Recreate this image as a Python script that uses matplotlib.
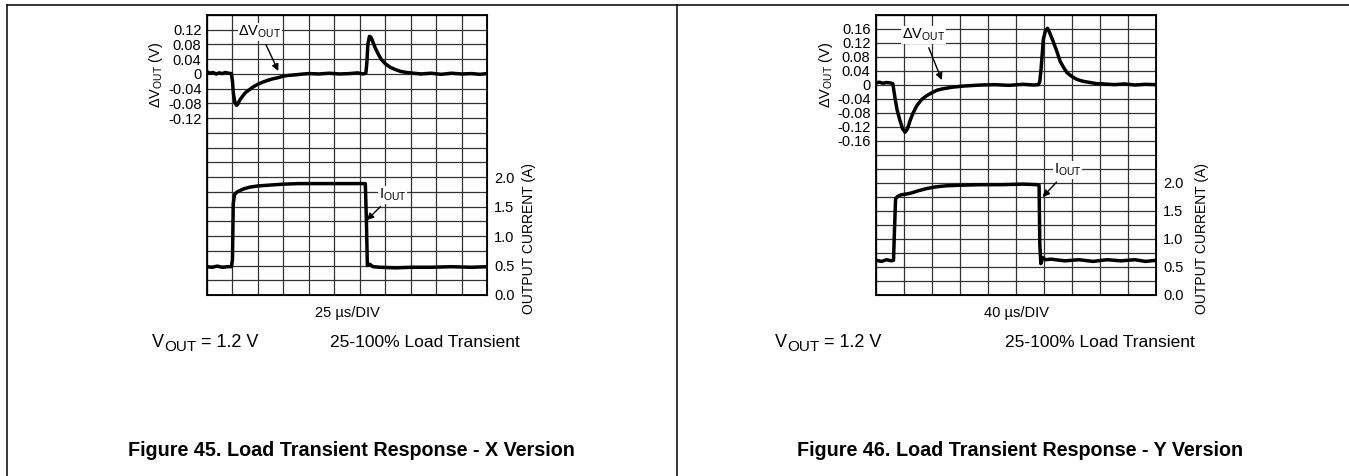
import numpy as np
import matplotlib
matplotlib.use('Agg')
import matplotlib.pyplot as plt
from matplotlib.lines import Line2D

plt.rcParams['font.family'] = ['Liberation Sans', 'DejaVu Sans']
plt.rcParams['mathtext.fontset'] = 'custom'
plt.rcParams['mathtext.rm'] = 'Liberation Sans'
plt.rcParams['mathtext.default'] = 'regular'

# =============================================================================
# DATA
# =============================================================================

# Figure 45 - X version, 25 us/DIV, 11 divisions
x_t = [0, 3, 6, 9, 12, 15, 18, 21, 24, 25, 26, 27.5, 29, 30, 32, 35, 38, 42, 46, 50,
       55, 60, 65, 70, 75, 80, 88, 95, 100, 110, 120, 130, 140, 148, 153, 156,
       157, 158, 159.5, 161, 162.5, 165, 168, 171, 175, 180, 185, 190, 196, 203,
       210, 220, 230, 240, 250, 260, 268, 275]
x_dv = [0.006, 0.002, 0.004, 0.0, 0.003, 0.001, 0.004, 0.002, 0.001, -0.02, -0.055, -0.078, -0.085, -0.083, -0.072, -0.06, -0.05, -0.042, -0.034, -0.028,
        -0.022, -0.017, -0.013, -0.01, -0.006, -0.004, -0.002, 0.0, 0.001, 0.0, 0.002, 0.0, 0.001, 0.003, 0.0, 0.002,
        0.03, 0.08, 0.102, 0.1, 0.09, 0.072, 0.055, 0.04, 0.028, 0.018, 0.012, 0.007, 0.004, 0.002,
        0.0, 0.002, -0.001, 0.002, 0.0, 0.001, -0.001, 0.001]

x_it = [0, 5, 10, 15, 20, 24, 25, 25.8, 27, 29, 32, 36, 42, 50, 58, 66, 75, 90, 110,
        130, 145, 155.5, 156.5, 157.5, 160, 163, 170, 185, 200, 220, 240, 260, 275]
x_i = [0.48, 0.47, 0.49, 0.47, 0.48, 0.48, 0.6, 1.55, 1.7, 1.74, 1.77, 1.8, 1.83, 1.85, 1.86, 1.87, 1.88, 1.89, 1.89,
       1.89, 1.89, 1.89, 1.3, 0.5, 0.52, 0.48, 0.47, 0.46, 0.47, 0.47, 0.48, 0.47, 0.48]

# Figure 46 - Y version, 40 us/DIV, 10 divisions
y_t = [0, 5, 10, 15, 20, 24, 27, 30, 34, 38, 41.5, 45, 49, 53, 58, 65, 72, 80, 87, 95,
       110, 125, 150, 170, 190, 210, 225, 232, 234, 236, 239, 242, 245, 248, 253,
       258, 263, 268, 273, 280, 287, 295, 306, 315, 325, 340, 355, 370, 385, 400]
y_dv = [0.006, 0.008, 0.005, 0.007, 0.006, 0.004, -0.035, -0.07, -0.1, -0.125, -0.135, -0.125, -0.1, -0.08, -0.06, -0.042, -0.031, -0.022, -0.015, -0.011,
        -0.006, -0.003, 0.0, 0.001, -0.001, 0.002, 0.0, 0.001, 0.01, 0.05, 0.13, 0.155, 0.162, 0.15, 0.125,
        0.098, 0.068, 0.05, 0.035, 0.024, 0.016, 0.011, 0.007, 0.004, 0.003, 0.001, 0.003, 0.0, 0.002, 0.001]

y_it = [0, 8, 15, 22, 25, 26.5, 28, 31, 36, 42, 50, 60, 72, 85, 100, 120, 150, 180,
        210, 230, 233, 234, 235.5, 238, 242, 250, 270, 290, 310, 330, 350, 370, 385, 400]
y_i = [0.62, 0.6, 0.63, 0.61, 0.62, 1.2, 1.72, 1.76, 1.79, 1.8, 1.82, 1.86, 1.9, 1.93, 1.95, 1.96, 1.97, 1.97,
       1.98, 1.97, 1.96, 0.9, 0.56, 0.67, 0.63, 0.64, 0.61, 0.63, 0.6, 0.63, 0.61, 0.63, 0.6, 0.62]

# axis settings
x_div, x_ndiv = 25, 11
y_div, y_ndiv = 40, 10
x_vlabels = [0.12, 0.08, 0.04, 0, -0.04, -0.08, -0.12]
y_vlabels = [0.16, 0.12, 0.08, 0.04, 0, -0.04, -0.08, -0.12, -0.16]
i_labels = [0.0, 0.5, 1.0, 1.5, 2.0]


# =============================================================================
# FIGURE
# =============================================================================

W, H = 1349, 476
fig = plt.figure(figsize=(W/100, H/100), dpi=100)

# page frame lines
fig.add_artist(Line2D([7/W, 1], [1 - 4.5/H, 1 - 4.5/H], color='black', lw=1.1, transform=fig.transFigure))
fig.add_artist(Line2D([7/W, 7/W], [0, 1 - 4.5/H], color='black', lw=1.1, transform=fig.transFigure))
fig.add_artist(Line2D([677/W, 677/W], [0, 1 - 4.5/H], color='black', lw=1.1, transform=fig.transFigure))


def scope(left_px, t, dv, it, cur, tdiv, ndiv, nrows, vlabels, vtop, div_text,
          dv_txt, dv_tip, i_txt, i_tip, ylab_x, ilab_x):
    ax = fig.add_axes([left_px/W, (H-295)/H, 280/W, 280/H])
    ax.set_xlim(0, tdiv*ndiv)
    vbot = -0.6
    ax.set_ylim(vbot, vtop)
    ax.set_xticks([tdiv*k for k in range(ndiv + 1)])
    ax.set_xticklabels([])
    rows = [round(vbot + 0.04*k, 2) for k in range(nrows + 1)]
    ax.set_yticks(rows)
    ax.set_yticklabels([('0' if r == 0 else f'{r:.2f}') if r in vlabels else '' for r in rows],
                       fontsize=10.5)
    ax.tick_params(length=0, pad=4)
    ax.grid(True, color='#333333', lw=0.9)
    for s in ax.spines.values():
        s.set_linewidth(1.3)
    ax.plot(t, dv, color='black', lw=2.5, zorder=3, solid_joinstyle='round')
    ax.set_ylabel('ΔV$_{OUT}$ (V)', fontsize=10.5)
    ax.yaxis.set_label_coords(ylab_x, 0.786)

    ax2 = ax.twinx()
    ax2.set_ylim(0, nrows*0.25)
    ax2.set_yticks(i_labels)
    ax2.set_yticklabels([f'{v:.1f}' for v in i_labels], fontsize=10.5)
    ax2.tick_params(length=0, pad=5)
    ax2.plot(it, cur, color='black', lw=2.5, zorder=3, solid_joinstyle='round')
    ax2.set_ylabel('OUTPUT CURRENT (A)', fontsize=10, rotation=90)
    ax2.yaxis.set_label_coords(ilab_x, 0.2)

    arrow = dict(arrowstyle='-|>', color='black', lw=1.0, shrinkA=3, shrinkB=0, mutation_scale=10)
    ax.annotate('ΔV$_{OUT}$', xy=dv_tip, xytext=dv_txt, ha='center', va='center', fontsize=10.5,
                arrowprops=arrow, bbox=dict(fc='white', ec='none', pad=0.5), zorder=5)
    ax2.annotate('I$_{OUT}$', xy=i_tip, xytext=i_txt, ha='center', va='center', fontsize=10.5,
                 arrowprops=arrow, bbox=dict(fc='white', ec='none', pad=0.5), zorder=5)

    ax.text(0.5, -0.065, div_text, transform=ax.transAxes, ha='center', va='center', fontsize=10.5)
    return ax


scope(207, x_t, x_dv, x_it, x_i, x_div, x_ndiv, 19, x_vlabels, 0.16, '25 µs/DIV',
      (52, 0.114), (70, 0.008), (182, 1.7), (157, 1.27), -0.15, 1.125)
scope(876, y_t, y_dv, y_it, y_i, y_div, y_ndiv, 20, y_vlabels, 0.2, '40 µs/DIV',
      (68, 0.143), (94, 0.014), (274, 2.23), (238, 1.75), -0.145, 1.14)

# conditions: V + larger subscript OUT + " = 1.2 V"
renderer = fig.canvas.get_renderer()


def vout_text(x_px, y_px):
    t1 = fig.text(x_px/W, 1 - y_px/H, 'V', fontsize=13, ha='left', va='baseline')
    x1 = t1.get_window_extent(renderer).x1
    t2 = fig.text(x1/W, 1 - (y_px + 4)/H, 'OUT', fontsize=11, ha='left', va='baseline')
    x2 = t2.get_window_extent(renderer).x1
    fig.text(x2/W, 1 - y_px/H, ' = 1.2 V', fontsize=13, ha='left', va='baseline')


vout_text(152, 347)
vout_text(775, 347)
fig.text(330/W, 1 - 347/H, '25-100% Load Transient', fontsize=12.5, ha='left', va='baseline')
fig.text(1005/W, 1 - 347/H, '25-100% Load Transient', fontsize=12.5, ha='left', va='baseline')

# captions
fig.text(351/W, 1 - 450/H, 'Figure 45. Load Transient Response - X Version',
         fontsize=14.2, fontweight='bold', ha='center', va='center')
fig.text(1020/W, 1 - 450/H, 'Figure 46. Load Transient Response - Y Version',
         fontsize=14.2, fontweight='bold', ha='center', va='center')

plt.savefig('out.png', dpi=100)
